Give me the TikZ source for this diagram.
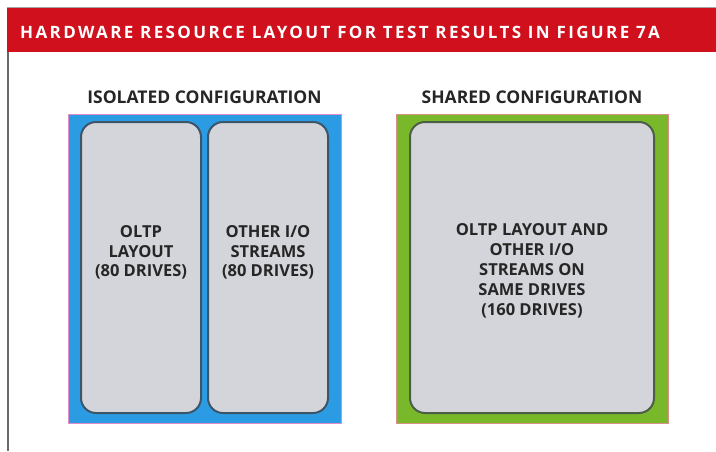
\documentclass[tikz,border=0pt]{standalone}
\usepackage{fontspec}
\setmainfont{Open Sans}
\newfontfamily\titlefont[LetterSpace=14]{Open Sans}
\definecolor{barred}{HTML}{D0111D}
\definecolor{boxblue}{HTML}{2B9BE3}
\definecolor{boxgreen}{HTML}{78B82A}
\definecolor{cellgray}{HTML}{D4D5DA}
\definecolor{cellblueedge}{HTML}{3D5568}
\definecolor{cellgreenedge}{HTML}{4C5E48}
\definecolor{pinkedge}{HTML}{E08CC8}
\definecolor{salmonedge}{HTML}{D99088}
\definecolor{framegray}{HTML}{6A6A6A}
\begin{document}
\begin{tikzpicture}[x=1pt,y=-1pt,
  cell/.style={draw, fill=cellgray, line width=2pt, rounded corners=15pt, inner sep=0pt},
  celltext/.style={font=\bfseries\fontsize{16.5}{19.5}\selectfont, align=center, text=black!85, inner sep=0pt},
  heading/.style={font=\bfseries\fontsize{17.5}{20}\selectfont, text=black!85, inner sep=0pt, anchor=base}]
\useasboundingbox (0,0) rectangle (716,451);
\fill[white] (0,0) rectangle (716,451);
% frame
\draw[framegray!60, line width=1pt] (7,7.5) -- (716,7.5);
\draw[framegray, line width=1.5pt] (8,8) -- (8,451);
\fill[barred] (7,8) rectangle (716,52);
\node[anchor=base west, inner sep=0pt, text=white, font=\titlefont\bfseries\fontsize{17}{18}\selectfont] (title) at (20,38.5) {HARDWARE RESOURCE LAYOUT FOR TEST RESULTS IN FIGURE 7A};
% headings
\node[heading] (isoh) at (204.5,103) {ISOLATED CONFIGURATION};
\node[heading] (shh) at (532,103) {SHARED CONFIGURATION};
% isolated box
\draw[pinkedge, fill=boxblue, line width=0.8pt] (68,114) rectangle (341,423);
\node[cell, draw=cellblueedge, minimum width=120pt, minimum height=291pt] (oltp) at (141,267.5) {};
\node[cell, draw=cellblueedge, minimum width=120pt, minimum height=291pt] (other) at (268,267.5) {};
\node[celltext] (oltpt) at (141,252.5) {OLTP\\LAYOUT\\(80 DRIVES)};
\node[celltext] (othert) at (268,252.5) {OTHER I/O\\STREAMS\\(80 DRIVES)};
% shared box
\draw[salmonedge, fill=boxgreen, line width=0.8pt] (396,114) rectangle (668,423);
\node[cell, draw=cellgreenedge, minimum width=244pt, minimum height=291pt] (shared) at (532,267.5) {};
\node[celltext, font=\bfseries\fontsize{16.5}{20}\selectfont] (sharedt) at (532,270.5) {OLTP LAYOUT AND\\OTHER I/O\\STREAMS ON\\SAME DRIVES\\(160 DRIVES)};
\end{tikzpicture}
\end{document}
